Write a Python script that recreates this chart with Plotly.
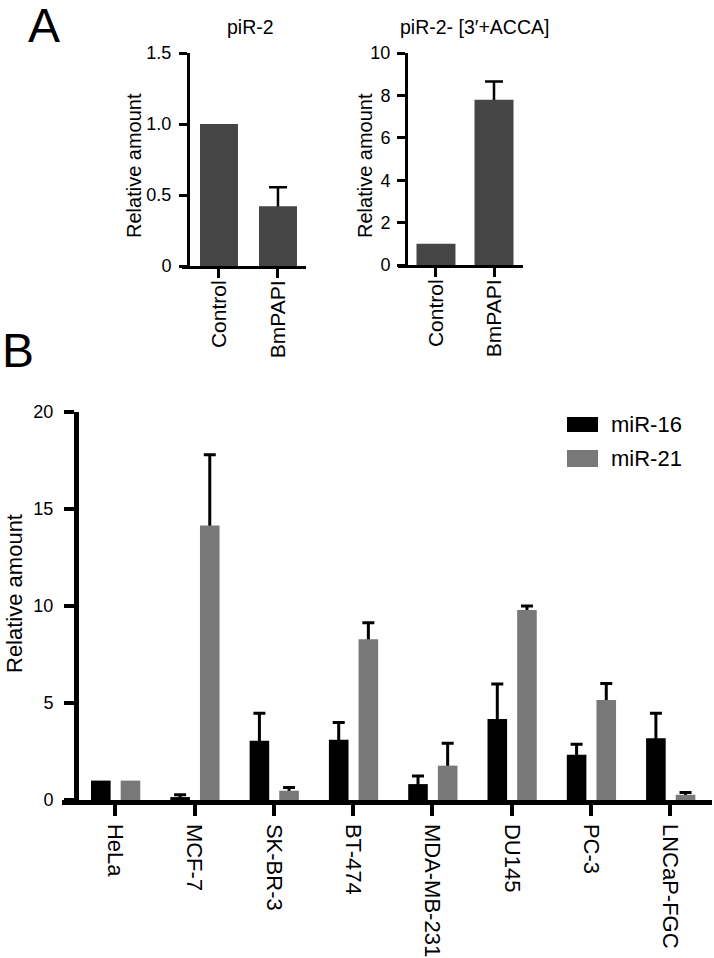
import plotly.graph_objects as go

# ---------------- data ----------------
a_groups = ["Control", "BmPAPI"]
a1_title = "piR-2"
a1_values = [1.0, 0.42]
a1_err = [None, 0.135]
a2_title = "piR-2- [3\u2032+ACCA]"
a2_values = [1.0, 7.8]
a2_err = [None, 0.85]

b_cells = ["HeLa", "MCF-7", "SK-BR-3", "BT-474", "MDA-MB-231", "DU145", "PC-3", "LNCaP-FGC"]
mir16 = [1.0, 0.15, 3.05, 3.1, 0.82, 4.18, 2.33, 3.18]
mir16_err = [None, 0.12, 1.42, 0.9, 0.42, 1.8, 0.55, 1.29]
mir21 = [1.0, 14.15, 0.48, 8.28, 1.77, 9.8, 5.15, 0.27]
mir21_err = [None, 3.65, 0.17, 0.86, 1.15, 0.2, 0.86, 0.12]

a1_ticks = [0, 0.5, 1.0, 1.5]
a1_ticktext = ["0", "0.5", "1.0", "1.5"]
a2_ticks = [0, 2, 4, 6, 8, 10]
b_ticks = [0, 5, 10, 15, 20]

# ---------------- layout helpers ----------------
W, H = 714, 958
FONT = "Liberation Sans, Arial, sans-serif"
A_BAR = "#454545"
C16 = "#000000"
C21 = "#787878"
CLEAR = "rgba(0,0,0,0)"


def px_x(p):
    return p / W


def px_y(p):
    return 1 - p / H


def err_trace(x, y, err, xa, ya, thickness, capw, **kw):
    # only points that carry an error; the lower arm runs down inside the bar
    keep = [i for i, e in enumerate(err) if e is not None]
    return go.Bar(
        x=[x[i] for i in keep], y=[y[i] for i in keep],
        marker=dict(color=CLEAR, line=dict(width=0)),
        error_y=dict(type="data", symmetric=False, array=[err[i] for i in keep],
                     arrayminus=[y[i] for i in keep],
                     color="black", thickness=thickness, width=capw),
        xaxis=xa, yaxis=ya, showlegend=False, hoverinfo="skip", **kw)


fig = go.Figure()

# error bars first (drawn under the bars)
fig.add_trace(err_trace(a_groups, a1_values, a1_err, "x", "y", 2.5, 9, width=0.644))
fig.add_trace(err_trace(a_groups, a2_values, a2_err, "x2", "y2", 2.5, 9, width=0.672))
fig.add_trace(err_trace(b_cells, mir16, mir16_err, "x3", "y3", 3, 6, width=0.247, offset=-0.306))
fig.add_trace(err_trace(b_cells, mir21, mir21_err, "x3", "y3", 3, 6, width=0.247, offset=0.068))

# Panel A bars
fig.add_trace(go.Bar(x=a_groups, y=a1_values, width=0.644,
                     marker=dict(color=A_BAR, line=dict(width=0)),
                     xaxis="x", yaxis="y", showlegend=False))
fig.add_trace(go.Bar(x=a_groups, y=a2_values, width=0.672,
                     marker=dict(color=A_BAR, line=dict(width=0)),
                     xaxis="x2", yaxis="y2", showlegend=False))

# Panel B bars
fig.add_trace(go.Bar(x=b_cells, y=mir16, width=0.247, offset=-0.306, name="miR-16",
                     marker=dict(color=C16, line=dict(width=0)),
                     xaxis="x3", yaxis="y3", showlegend=False))
fig.add_trace(go.Bar(x=b_cells, y=mir21, width=0.247, offset=0.068, name="miR-21",
                     marker=dict(color=C21, line=dict(width=0)),
                     xaxis="x3", yaxis="y3", showlegend=False))

tickfont = dict(family=FONT, size=18, color="black")

common_x = dict(type="category", showgrid=False, zeroline=False, showline=True,
                linecolor="black", ticks="outside", tickcolor="black", fixedrange=True,
                automargin=False, categoryorder="array")
common_y = dict(showgrid=False, zeroline=False, showline=True, linecolor="black",
                ticks="outside", tickcolor="black", tickfont=tickfont, automargin=False,
                fixedrange=True)

fig.update_layout(
    template="none",
    width=W, height=H, margin=dict(l=0, r=0, t=0, b=0, pad=0, autoexpand=False),
    paper_bgcolor="white", plot_bgcolor="white", hovermode=False,
    barmode="overlay", font=dict(family=FONT, color="black"),
    xaxis=dict(common_x, categoryarray=a_groups,
               domain=[px_x(182), px_x(306)], range=[-0.627, 1.475], anchor="y",
               linewidth=3, tickwidth=3, ticklen=9, tickangle=-90, ticklabelstandoff=-6,
               tickfont=dict(family=FONT, size=21, color="black")),
    yaxis=dict(common_y, domain=[px_y(266), px_y(53)], range=[0, 1.5], anchor="free",
               position=px_x(188), linewidth=3, tickwidth=3, ticklen=8, ticklabelstandoff=4,
               tickvals=a1_ticks, ticktext=a1_ticktext),
    xaxis2=dict(common_x, categoryarray=a_groups,
                domain=[px_x(398), px_x(523)], range=[-0.655, 1.5], anchor="y2",
                linewidth=3, tickwidth=3, ticklen=9, tickangle=-90, ticklabelstandoff=-6,
                tickfont=dict(family=FONT, size=21, color="black")),
    yaxis2=dict(common_y, domain=[px_y(265), px_y(53)], range=[0, 10], anchor="free",
                position=px_x(406), linewidth=3, tickwidth=3, ticklen=8, ticklabelstandoff=3,
                tickvals=a2_ticks),
    xaxis3=dict(common_x, categoryarray=b_cells,
                domain=[px_x(62), px_x(712)], range=[-0.672, 7.525], anchor="y3",
                linewidth=4.5, tickwidth=4, ticklen=11, tickangle=90, ticklabelstandoff=4,
                tickfont=dict(family=FONT, size=22, color="black")),
    yaxis3=dict(common_y, domain=[px_y(800), px_y(412)], range=[0, 20], anchor="free",
                position=px_x(76), linewidth=4.5, tickwidth=4, ticklen=10, ticklabelstandoff=7,
                tickvals=b_ticks),
)

ann = []
# panel letters
ann.append(dict(text="A", x=px_x(44), y=px_y(25), font=dict(size=48)))
ann.append(dict(text="B", x=px_x(18), y=px_y(351), font=dict(size=48)))
# panel A titles
ann.append(dict(text=a1_title, x=px_x(251), y=px_y(27), font=dict(size=19.5)))
ann.append(dict(text=a2_title, x=px_x(474), y=px_y(27), font=dict(size=19.5)))
# y-axis titles
ann.append(dict(text="Relative amount", x=px_x(134), y=px_y(166), textangle=-90, font=dict(size=20)))
ann.append(dict(text="Relative amount", x=px_x(365), y=px_y(166), textangle=-90, font=dict(size=20)))
ann.append(dict(text="Relative amount", x=px_x(14), y=px_y(594), textangle=-90, font=dict(size=22)))
# legend labels
ann.append(dict(text="miR-16", x=px_x(609), y=px_y(424.5), xanchor="left", font=dict(size=22)))
ann.append(dict(text="miR-21", x=px_x(609), y=px_y(458.5), xanchor="left", font=dict(size=22)))

for a in ann:
    a.setdefault("xanchor", "center")
    a.update(xref="paper", yref="paper", yanchor="middle", showarrow=False)
    a["font"] = dict(family=FONT, color="black", **a["font"])
fig.update_layout(annotations=ann)

# legend swatches
fig.add_shape(type="rect", xref="paper", yref="paper", x0=px_x(567), x1=px_x(598),
              y0=px_y(432), y1=px_y(417), fillcolor=C16, line=dict(width=0))
fig.add_shape(type="rect", xref="paper", yref="paper", x0=px_x(567), x1=px_x(598),
              y0=px_y(467), y1=px_y(450), fillcolor=C21, line=dict(width=0))

fig.write_html("out.html", config={"displayModeBar": False, "staticPlot": True},
               post_script="document.body.style.margin='0px';")
